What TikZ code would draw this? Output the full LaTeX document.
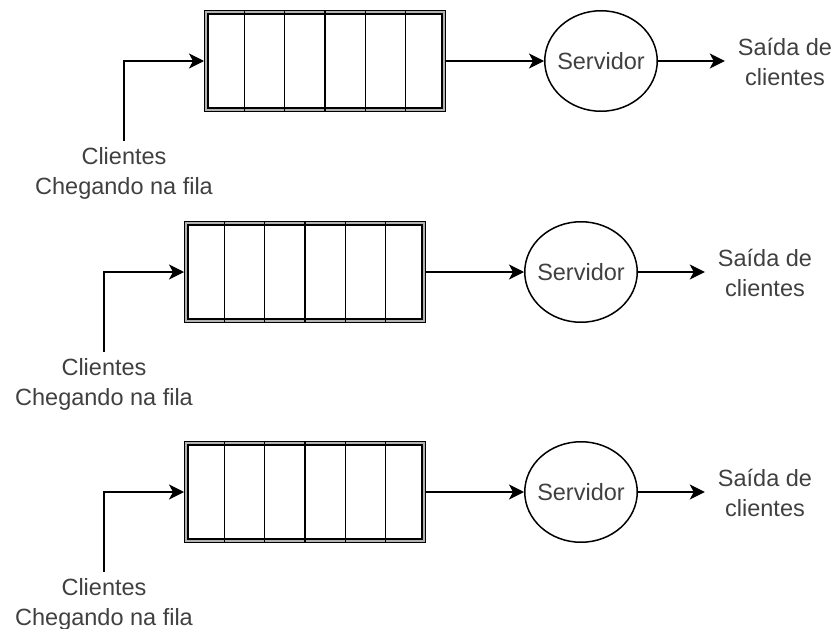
\documentclass[tikz,border=0pt]{standalone}
\usepackage{fontspec}
\setmainfont{Liberation Sans}
\usetikzlibrary{shapes.geometric,arrows.meta,calc}
\definecolor{txt}{RGB}{64,64,64}
\begin{document}
\begin{tikzpicture}[x=1pt,y=-1pt,
  lbl/.style={font=\fontsize{23.5}{30}\selectfont, text=txt, align=center},
  queue/.style={draw, line width=1.4pt, double=gray!60, double distance=1.8pt,
    minimum width=237.4pt, minimum height=97.4pt, outer sep=2.3pt, inner sep=0pt},
  divider/.style={line width=1.5pt},
  server/.style={ellipse, draw, line width=1.5pt, minimum width=112.5pt,
    minimum height=100.5pt, inner sep=0pt,
    label={[lbl, inner sep=0pt]center:Servidor}},
  intext/.style={lbl, inner xsep=0pt, inner ysep=6pt, anchor=north},
  outtext/.style={lbl, inner xsep=13pt, inner ysep=0pt},
  arr/.style={line width=1.5pt, -{Stealth[length=15pt, width=15pt, inset=4pt]}}]
\useasboundingbox (0,0) rectangle (836,629);
\foreach \i/\dx/\cy in {1/20/61, 2/0/272, 3/0/492} {
  % queue with six slots
  \node[queue] (q\i) at (305+\dx, \cy) {};
  \foreach \k in {1,...,5}
    \draw[divider] ($(q\i.north west)!\k/6!(q\i.north east)$)
                -- ($(q\i.south west)!\k/6!(q\i.south east)$);
  % server
  \node[server] (s\i) at (581+\dx, \cy) {};
  % arrivals and departures
  \node[intext] (c\i) at (104+\dx, \cy+80) {Clientes\\Chegando na fila};
  \node[outtext] (o\i) at (765+\dx, \cy+1) {Saída de\\clientes};
  \draw[arr] (c\i.north) |- (q\i.west);
  \draw[arr] (q\i.east) -- (s\i.west);
  \draw[arr] (s\i.east) -- (s\i.east -| o\i.west);
}
\end{tikzpicture}
\end{document}
